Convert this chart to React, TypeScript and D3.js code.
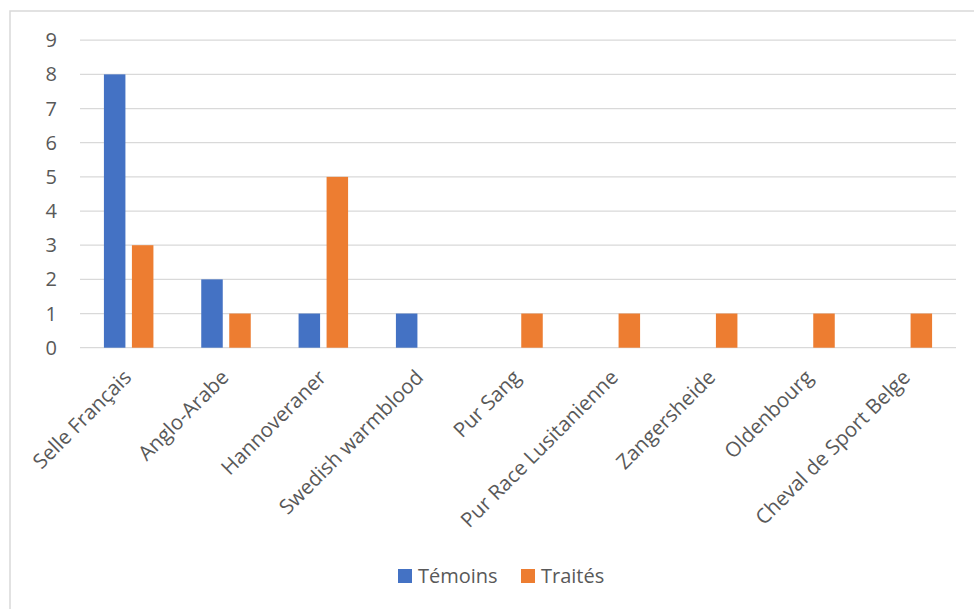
import React from "react";
import * as d3 from "d3";

const categories = [
  "Selle Français",
  "Anglo-Arabe",
  "Hannoveraner",
  "Swedish warmblood",
  "Pur Sang",
  "Pur Race Lusitanienne",
  "Zangersheide",
  "Oldenbourg",
  "Cheval de Sport Belge",
];
const temoins = [8, 2, 1, 1, 0, 0, 0, 0, 0];
const traites = [3, 1, 5, 0, 1, 1, 1, 1, 1];
const seriesNames = ["Témoins", "Traités"];
const seriesColors = ["#4472C4", "#ED7D31"];
const yTicks = [0, 1, 2, 3, 4, 5, 6, 7, 8, 9];

const W = 974;
const H = 609;
const FONT = "'Open Sans', sans-serif";

export default function App() {
  const left = 80;
  const right = 956;
  const top = 40.2;
  const bottom = 347.7;

  const x0 = d3.scaleBand<string>().domain(categories).range([left, right]).padding(0);
  const x1 = d3
    .scaleBand<string>()
    .domain(seriesNames)
    .range([0, x0.bandwidth()])
    .paddingInner(0.232)
    .paddingOuter(0.854);
  const y = d3.scaleLinear().domain([0, 9]).range([bottom, top]);

  const seriesValues = [temoins, traites];

  return (
    <svg
      width={W}
      height={H}
      style={{ position: "absolute", left: 0, top: 0, background: "#fff" }}
      fontFamily={FONT}
    >
      <rect x={10} y={11} width={1000} height={700} fill="#fff" stroke="#D9D9D9" strokeWidth={1.5} />
      {yTicks.map((t) => (
        <g key={t}>
          <line x1={left} x2={right} y1={y(t)} y2={y(t)} stroke="#D9D9D9" strokeWidth={1.3} />
          <text x={57} y={y(t)} dy="0.35em" textAnchor="end" fontSize={20} fill="#595959">
            {t}
          </text>
        </g>
      ))}
      {categories.map((c, i) => (
        <g key={c}>
          {seriesNames.map((s, j) => {
            const v = seriesValues[j][i];
            if (!v) return null;
            return (
              <rect
                key={s}
                x={(x0(c) as number) + (x1(s) as number)}
                y={y(v)}
                width={x1.bandwidth()}
                height={y(0) - y(v)}
                fill={seriesColors[j]}
              />
            );
          })}
        </g>
      ))}
      {categories.map((c) => {
        const cx = (x0(c) as number) + x0.bandwidth() / 2;
        return (
          <text
            key={c}
            transform={`translate(${cx + 4},${bottom + 31}) rotate(-45)`}
            textAnchor="end"
            fontSize={20.5}
            fill="#595959"
          >
            {c}
          </text>
        );
      })}
      {seriesNames.map((s, j) => {
        const lx = [398, 521][j];
        return (
          <g key={s}>
            <rect x={lx} y={569} width={14} height={14} fill={seriesColors[j]} />
            <text x={lx + 20} y={583} fontSize={20} fill="#595959">
              {s}
            </text>
          </g>
        );
      })}
    </svg>
  );
}
